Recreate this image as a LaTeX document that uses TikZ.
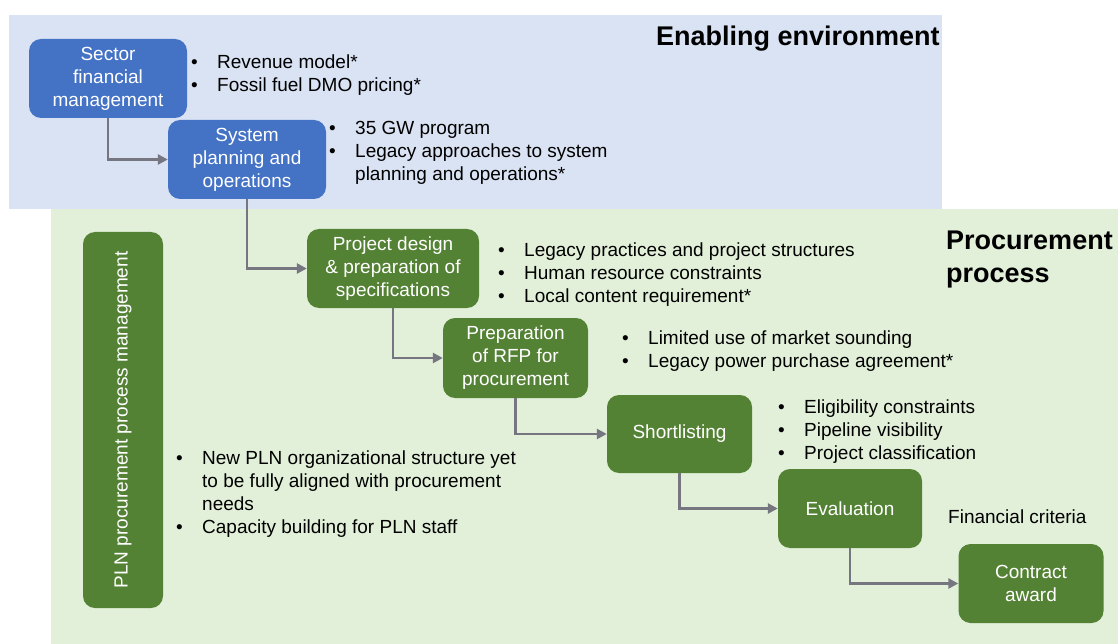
\documentclass[tikz,border=0pt]{standalone}
\usepackage{fontspec}
\setmainfont{Liberation Sans}
\usepackage{xcolor}
\usetikzlibrary{arrows.meta}

\definecolor{sfondoblu}{HTML}{DAE3F3}
\definecolor{sfondoverde}{HTML}{E2F0D9}
\definecolor{bloccoblu}{HTML}{4472C4}
\definecolor{bloccoverde}{HTML}{548235}
\definecolor{grigiofreccia}{HTML}{767680}

% elenco puntato: colonna del punto + testo
\newcommand{\elenco}[1]{\begin{tabular}[t]{@{}p{26pt}@{}l@{}}#1\end{tabular}}
\newcommand{\pto}{\textbullet &}

\begin{document}
\begin{tikzpicture}[x=1pt, y=-1pt, >={Triangle[length=10pt,width=10pt]},
    line cap=round, line join=round,
    testo/.style={font=\fontsize{19}{23}\selectfont, inner sep=0pt},
    titolo/.style={font=\fontsize{27}{32}\selectfont\bfseries, inner sep=0pt, anchor=base west},
    blocco/.style={testo, text=white, align=center, rounded corners=12pt,
        minimum width=145pt, minimum height=79pt},
    blu/.style={blocco, fill=bloccoblu},
    verde/.style={blocco, fill=bloccoverde},
    nota/.style={testo, anchor=base west},
    freccia/.style={->, draw=grigiofreccia, line width=2.5pt, line cap=butt, line join=miter}]

\useasboundingbox (0,0) rectangle (1118,644);

% Sfondi
\fill[sfondoblu] (9,15) rectangle (942,209);
\fill[sfondoverde] (51,209) rectangle (1118,644);

% Titoli
\node[titolo] (tEnv) at (656,46) {Enabling environment};
\node[titolo] (tProc) at (946,250) {Procurement};
\node[titolo] (tProc2) at (946,282) {process};

% Blocchi
\node[blu, minimum width=158pt] (sfm) at (108,78.5) {Sector\\financial\\management};
\node[blu, minimum width=158pt] (spo) at (247,159.5) {System\\planning and\\operations};
\node[verde, minimum width=172pt] (pds) at (393,268.5) {Project design\\\& preparation of\\specifications};
\node[verde, minimum height=80pt] (rfp) at (515.5,358) {Preparation\\of RFP for\\procurement};
\node[verde, minimum height=78pt] (shl) at (679.5,434) {Shortlisting};
\node[verde, minimum width=144pt] (evl) at (850,508.5) {Evaluation};
\node[verde] (cta) at (1031,583.5) {Contract\\award};
\node[verde, rotate=90, minimum width=376pt, minimum height=80pt] (pln) at (123,420)
    {PLN procurement process management};

% Frecce
\draw[freccia] (sfm.south) |- (spo.west);
\draw[freccia] (spo.south) |- (pds.west);
\draw[freccia] (pds.south) |- (rfp.west);
\draw[freccia] (rfp.south) |- (shl.west);
\draw[freccia] (shl.south) |- (evl.west);
\draw[freccia] (evl.south) |- (cta.west);

% Elenchi
\node[nota] (nSfm) at (191,69) {\elenco{\pto Revenue model*\\ \pto Fossil fuel DMO pricing*}};
\node[nota] (nSpo) at (329,135) {\elenco{\pto 35 GW program\\ \pto Legacy approaches to system\\ & planning and operations*}};
\node[nota] (nPds) at (498,257) {\elenco{\pto Legacy practices and project structures\\ \pto Human resource constraints\\ \pto Local content requirement*}};
\node[nota] (nRfp) at (622,344) {\elenco{\pto Limited use of market sounding\\ \pto Legacy power purchase agreement*}};
\node[nota] (nShl) at (778,413) {\elenco{\pto Eligibility constraints\\ \pto Pipeline visibility\\ \pto Project classification}};
\node[nota] (nEvl) at (948,523) {Financial criteria};
\node[nota] (nPln) at (176,464) {\elenco{\pto New PLN organizational structure yet\\ & to be fully aligned with procurement\\ & needs\\ \pto Capacity building for PLN staff}};

\end{tikzpicture}
\end{document}
